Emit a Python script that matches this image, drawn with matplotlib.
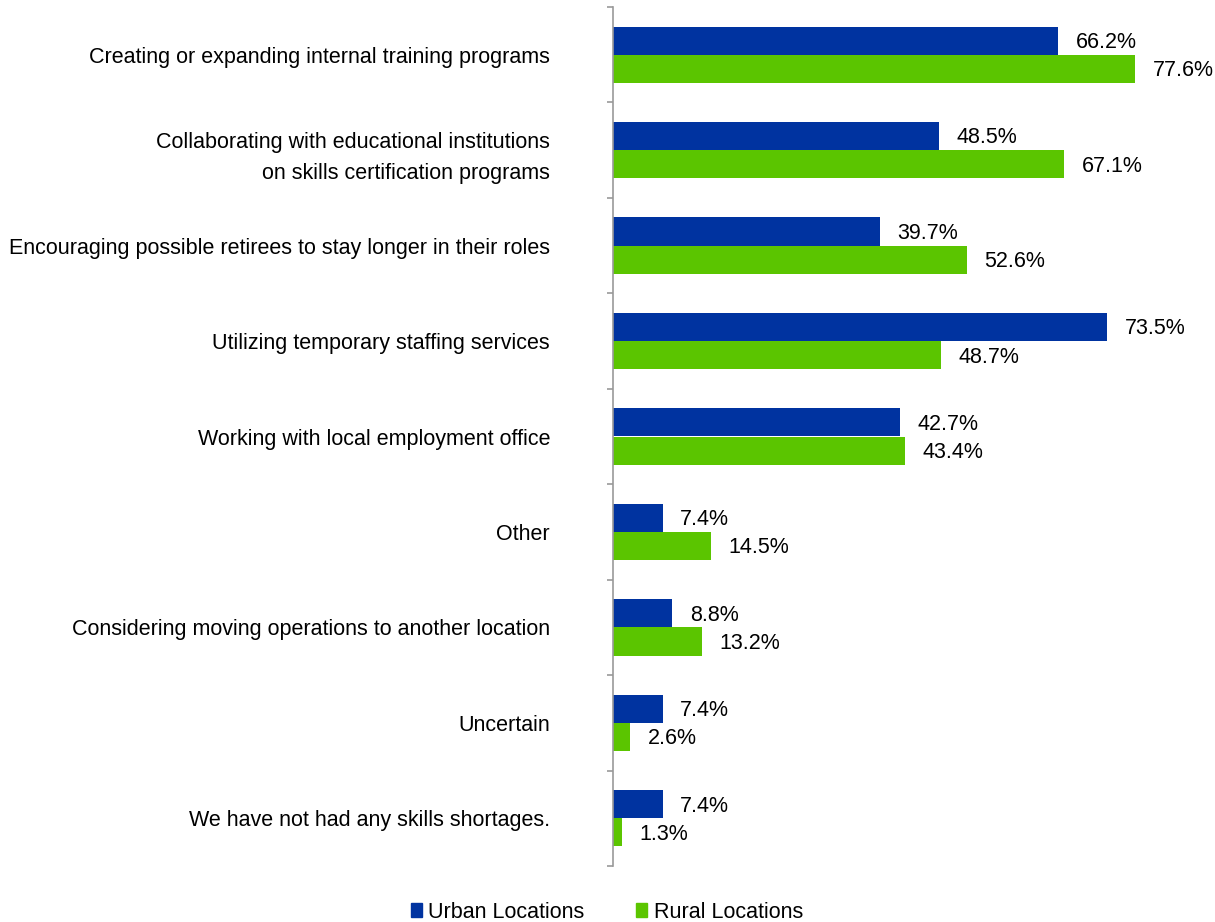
import matplotlib
matplotlib.use("Agg")
import matplotlib.pyplot as plt
from matplotlib.patches import Patch
import numpy as np

categories = [
    "Creating or expanding internal training programs",
    "Collaborating with educational institutions\non skills certification programs",
    "Encouraging possible retirees to stay longer in their roles",
    "Utilizing temporary staffing services",
    "Working with local employment office",
    "Other",
    "Considering moving operations to another location",
    "Uncertain",
    "We have not had any skills shortages.",
]
urban = [66.2, 48.5, 39.7, 73.5, 42.7, 7.4, 8.8, 7.4, 7.4]
rural = [77.6, 67.1, 52.6, 48.7, 43.4, 14.5, 13.2, 2.6, 1.3]
series_names = ["Urban Locations", "Rural Locations"]
colors = ["#0033A0", "#5BC500"]

plt.rcParams['font.family'] = ['Liberation Sans', 'DejaVu Sans']
FS = 15.5

fig = plt.figure(figsize=(12.15, 9.22), dpi=100)
ax = fig.add_axes([613/1215, 56/922, 1 - 613/1215, (866-7)/922])

n = len(categories)
y = np.arange(n)
h = 0.295
ax.barh(y - h/2, urban, height=h, color=colors[0])
ax.barh(y + h/2, rural, height=h, color=colors[1])

for yi, v in zip(y, urban):
    ax.text(v + 2.6, yi - h/2 + 0.02, f"{v:.1f}%", va="center", ha="left", fontsize=FS)
for yi, v in zip(y, rural):
    ax.text(v + 2.6, yi + h/2 + 0.02, f"{v:.1f}%", va="center", ha="left", fontsize=FS)

ax.set_xlim(0, 89.5)
ax.set_ylim(n - 0.5, -0.5)
ax.set_yticks(y)
ax.set_yticklabels(categories, fontsize=FS, linespacing=1.65)
ax.tick_params(axis='y', length=0, pad=63*72/100)
ax.set_yticks(np.arange(-0.5, n, 1), minor=True)
ax.tick_params(axis='y', which='minor', length=4.5, color='#999999', width=1.2)
ax.set_xticks([])
for s in ['top', 'right', 'bottom']:
    ax.spines[s].set_visible(False)
ax.spines['left'].set_color('#999999')
ax.spines['left'].set_linewidth(1.2)

handles = [Patch(color=c, label=l) for c, l in zip(colors, series_names)]
fig.legend(handles=handles, loc='center', bbox_to_anchor=(607/1215, 10/922),
           ncol=2, frameon=False, fontsize=FS, handlelength=0.5, handleheight=0.6,
           handletextpad=0.3, columnspacing=2.4, borderpad=0)

fig.savefig("out.png", dpi=100)
